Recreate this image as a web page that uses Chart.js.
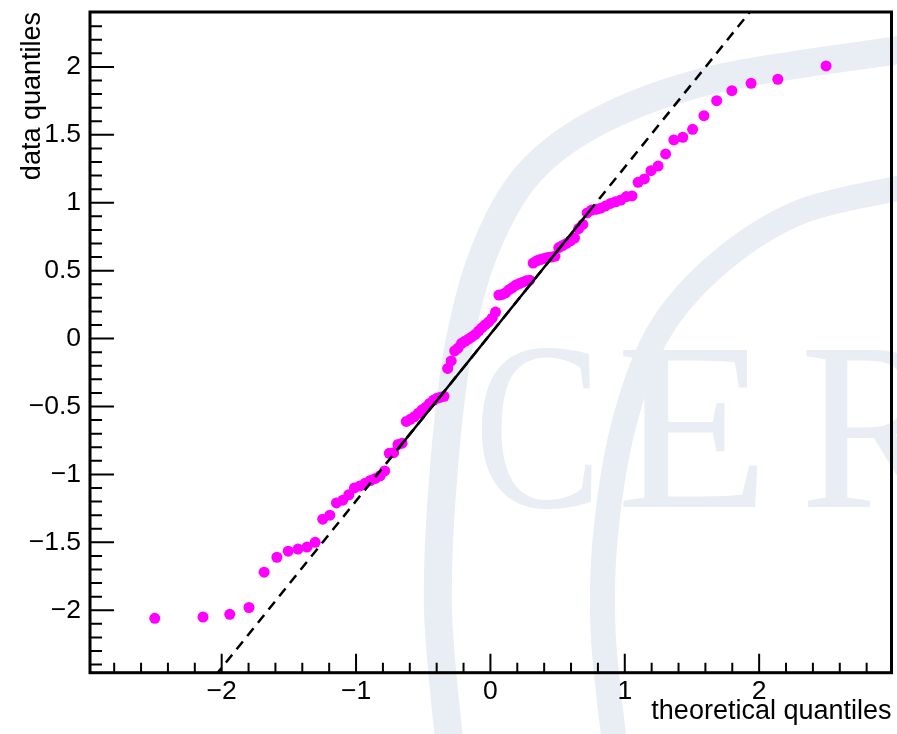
<!DOCTYPE html>
<html>
<head>
<meta charset="utf-8">
<script src="https://cdn.jsdelivr.net/npm/chart.js@4.4.1/dist/chart.umd.min.js"></script>
<style>
  html, body { margin: 0; padding: 0; background: #fff; }
  #qq { display: block; }
</style>
</head>
<body>
<canvas id="qq" width="897" height="734"></canvas>
<script>
// --- data ---
const theoQ = [
  -2.498, -2.139, -1.940, -1.797, -1.684, -1.589, -1.505, -1.432, -1.365, -1.304,
  -1.248, -1.195, -1.146, -1.099, -1.054, -1.012, -0.971, -0.932, -0.894, -0.857,
  -0.821, -0.787, -0.753, -0.720, -0.688, -0.657, -0.626, -0.596, -0.566, -0.537,
  -0.509, -0.480, -0.453, -0.425, -0.398, -0.371, -0.345, -0.318, -0.292, -0.266,
  -0.241, -0.215, -0.190, -0.164, -0.139, -0.113, -0.088, -0.063, -0.038, -0.013,
  0.013, 0.038, 0.063, 0.088, 0.113, 0.139, 0.164, 0.190, 0.215, 0.241,
  0.266, 0.292, 0.318, 0.345, 0.371, 0.398, 0.425, 0.453, 0.480, 0.509,
  0.537, 0.566, 0.596, 0.626, 0.657, 0.688, 0.720, 0.753, 0.787, 0.821,
  0.857, 0.894, 0.932, 0.971, 1.012, 1.054, 1.099, 1.146, 1.195, 1.248,
  1.304, 1.365, 1.432, 1.505, 1.589, 1.684, 1.797, 1.940, 2.139, 2.498,
];
const dataQ = [
  -2.06, -2.05, -2.03, -1.98, -1.72, -1.61, -1.565, -1.55, -1.535, -1.5,
  -1.33, -1.3, -1.21, -1.19, -1.15, -1.1, -1.085, -1.065, -1.045, -1.03,
  -1.01, -0.975, -0.845, -0.84, -0.78, -0.77, -0.61, -0.595, -0.575, -0.55,
  -0.525, -0.505, -0.478, -0.455, -0.44, -0.432, -0.425, -0.22, -0.165, -0.09,
  -0.07, -0.035, -0.02, -0.005, 0.012, 0.03, 0.055, 0.08, 0.102, 0.122,
  0.15, 0.195, 0.32, 0.325, 0.337, 0.36, 0.375, 0.394, 0.405, 0.415,
  0.425, 0.43, 0.556, 0.572, 0.582, 0.59, 0.597, 0.6, 0.605, 0.67,
  0.685, 0.7, 0.72, 0.74, 0.81, 0.84, 0.925, 0.946, 0.951, 0.96,
  0.976, 0.995, 1.007, 1.02, 1.045, 1.05, 1.15, 1.175, 1.236, 1.27,
  1.359, 1.462, 1.482, 1.54, 1.641, 1.751, 1.825, 1.879, 1.909, 2.007,
];
// reference line through the quartiles
const dashX = [-3, 3];
const dashY = [-3.652, 3.718];
const solidX = [-0.69, 0.73];
const solidY = [-0.815, 0.93];

const xTickVals = [-2, -1, 0, 1, 2];
const yTickVals = [-2, -1.5, -1, -0.5, 0, 0.5, 1, 1.5, 2];
const xRange = [-2.98, 2.985];
const yRange = [-2.46, 2.404];

const FONT = '"Liberation Sans", Arial, Helvetica, sans-serif';
const minus = (v) => (v < 0 ? "\u2212" + String(-v) : String(v));

// faint CERN logo in the background
const wm = {
  color: "#e9edf4",
  outer: [[449, 740], [438, 610], [443, 480], [458, 350], [485, 250], [530, 172], [605, 118], [720, 78], [900, 50]],
  inner: [[614, 740], [603, 630], [606, 530], [625, 420], [660, 330], [720, 262], [800, 212], [900, 188]],
  letters: [["C", 474, 0.8], ["E", 616, 1.05], ["R", 800, 0.95]],
};

function smoothPath(ctx, pts) {
  ctx.beginPath();
  ctx.moveTo(pts[0][0], pts[0][1]);
  for (let i = 0; i < pts.length - 1; i++) {
    const p0 = pts[Math.max(i - 1, 0)];
    const p1 = pts[i];
    const p2 = pts[i + 1];
    const p3 = pts[Math.min(i + 2, pts.length - 1)];
    ctx.bezierCurveTo(
      p1[0] + (p2[0] - p0[0]) / 6, p1[1] + (p2[1] - p0[1]) / 6,
      p2[0] - (p3[0] - p1[0]) / 6, p2[1] - (p3[1] - p1[1]) / 6,
      p2[0], p2[1]
    );
  }
}

const background = {
  id: "background",
  beforeDraw(chart) {
    const ctx = chart.ctx;
    ctx.save();
    ctx.fillStyle = "#fff";
    ctx.fillRect(0, 0, chart.width, chart.height);
    ctx.strokeStyle = wm.color;
    ctx.lineWidth = 28;
    smoothPath(ctx, wm.outer);
    ctx.stroke();
    ctx.lineWidth = 25;
    smoothPath(ctx, wm.inner);
    ctx.stroke();
    ctx.fillStyle = wm.color;
    ctx.font = '240px "Liberation Serif", "DejaVu Serif", serif';
    ctx.textBaseline = "alphabetic";
    wm.letters.forEach(([ch, x, k]) => {
      ctx.save();
      ctx.translate(x, 507);
      ctx.scale(k, 1);
      ctx.fillText(ch, 0, 0);
      ctx.restore();
    });
    ctx.restore();
  },
};

// ROOT style frame with ticks pointing inwards
const frame = {
  id: "frame",
  afterDatasetsDraw(chart) {
    const { ctx, chartArea: a, scales } = chart;
    const sx = scales.x, sy = scales.y;
    ctx.save();
    ctx.strokeStyle = "#000";
    ctx.lineWidth = 2;
    ctx.beginPath();
    for (let k = -24; k <= 24; k++) {
      const py = sy.getPixelForValue(k / 10);
      if (py < a.top + 1 || py > a.bottom - 1) continue;
      const len = k % 5 === 0 ? 24 : 12;
      ctx.moveTo(a.left, py);
      ctx.lineTo(a.left + len, py);
    }
    for (let k = -14; k <= 14; k++) {
      const px = sx.getPixelForValue(k / 5);
      if (px < a.left + 1 || px > a.right - 1) continue;
      const len = k % 5 === 0 ? 19 : 10;
      ctx.moveTo(px, a.bottom);
      ctx.lineTo(px, a.bottom - len);
    }
    ctx.stroke();
    ctx.lineWidth = 3;
    ctx.strokeRect(a.left, a.top, a.right - a.left, a.bottom - a.top);
    ctx.restore();
  },
};

new Chart(document.getElementById("qq"), {
  type: "scatter",
  data: {
    datasets: [
      {
        type: "line",
        data: solidX.map((x, i) => ({ x, y: solidY[i] })),
        borderColor: "#000",
        borderWidth: 2.5,
        pointRadius: 0,
      },
      {
        type: "line",
        data: dashX.map((x, i) => ({ x, y: dashY[i] })),
        borderColor: "#000",
        borderWidth: 2.5,
        borderDash: [10, 7],
        pointRadius: 0,
      },
      {
        data: theoQ.map((x, i) => ({ x, y: dataQ[i] })),
        backgroundColor: "#ff00ff",
        borderWidth: 0,
        pointRadius: 5.5,
      },
    ],
  },
  options: {
    responsive: false,
    animation: false,
    devicePixelRatio: 1,
    layout: { padding: { top: 12, right: 4, left: 0, bottom: 0 } },
    plugins: { legend: { display: false }, tooltip: { enabled: false } },
    scales: {
      x: {
        type: "linear",
        min: xRange[0],
        max: xRange[1],
        afterBuildTicks: (s) => { s.ticks = xTickVals.map((v) => ({ value: v })); },
        afterFit: (s) => { s.height = 61.3; s.paddingLeft = 0; s.paddingRight = 0; },
        grid: { display: false, drawTicks: false },
        border: { display: false },
        ticks: {
          callback: (v) => minus(v),
          font: { family: FONT, size: 26.5 },
          color: "#000",
          padding: 3,
          maxRotation: 0,
          autoSkip: false,
        },
        title: {
          display: true,
          text: "theoretical quantiles",
          align: "end",
          color: "#000",
          font: { family: FONT, size: 27 },
          padding: { top: 0, bottom: 6 },
        },
      },
      y: {
        type: "linear",
        min: yRange[0],
        max: yRange[1],
        afterBuildTicks: (s) => { s.ticks = yTickVals.map((v) => ({ value: v })); },
        afterFit: (s) => { s.width = 90; s.paddingTop = 0; s.paddingBottom = 0; },
        grid: { display: false, drawTicks: false },
        border: { display: false },
        ticks: {
          callback: (v) => minus(v),
          font: { family: FONT, size: 26.5 },
          color: "#000",
          padding: 9,
          autoSkip: false,
        },
        title: {
          display: true,
          text: "data quantiles",
          align: "end",
          color: "#000",
          font: { family: FONT, size: 27 },
          padding: { top: 16, bottom: 0 },
        },
      },
    },
  },
  plugins: [background, frame],
});
</script>
</body>
</html>
